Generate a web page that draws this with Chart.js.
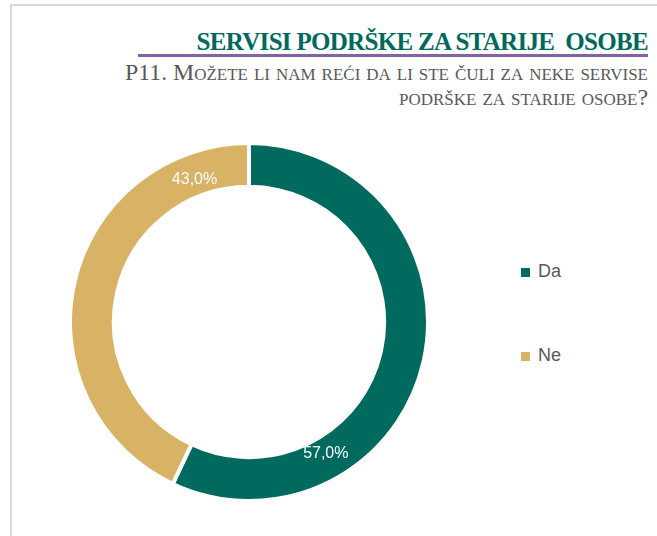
<!DOCTYPE html>
<html>
<head>
<meta charset="utf-8">
<script src="https://cdn.jsdelivr.net/npm/chart.js@4/dist/chart.umd.min.js"></script>
<style>
  body { margin: 0; background: #fff; width: 657px; height: 536px; overflow: hidden; position: relative; }
  .frame { position: absolute; left: 10px; top: 4px; width: 700px; height: 600px; border: 2px solid #d9d9d9; }
  .title { position: absolute; right: 9px; top: 28px; font-family: "Liberation Serif", serif; font-weight: bold;
           font-size: 25px; color: #00695e; white-space: pre; letter-spacing: -0.7px; }
  .rule { position: absolute; left: 138px; top: 54px; width: 510px; height: 3px; background: #8064a2; }
  .sub { position: absolute; right: 9px; top: 60px; font-family: "Liberation Serif", serif; font-size: 23.8px;
         color: #595959; text-align: right; font-variant: small-caps; line-height: 25px; }
  .chartBox { position: absolute; left: 68px; top: 141px; width: 362px; height: 362px; }
  .legend { position: absolute; left: 519px; top: 261px; font-family: "Liberation Sans", sans-serif; font-size: 18px; color: #595959; }
  .legend div { height: 84px; display: flex; align-items: flex-start; }
  .legend span.box { display: inline-block; width: 9px; height: 9px; margin: 7px 8px 0 2px; }
</style>
</head>
<body>
<div class="frame"></div>
<div class="title">SERVISI PODRŠKE ZA STARIJE  OSOBE</div>
<div class="rule"></div>
<div class="sub">P11. Možete li nam reći da li ste čuli za neke servise<br>podrške za starije osobe?</div>
<div class="chartBox"><canvas id="donut"></canvas></div>
<div class="legend" id="legend"></div>
<script>
// data
const categories = ['Da', 'Ne'];
const values = [57.0, 43.0];
const colors = ['#006a5e', '#d8b265'];
// where along each arc the value label sits (fraction of the arc span), like the original
const labelSpot = [0.73, 0.865];

// legend
document.getElementById('legend').innerHTML = categories.map((c, i) =>
    `<div><span class="box" style="background:${colors[i]}"></span>${c}</div>`).join('');

// value labels plugin
const arcLabels = {
    id: 'arcLabels',
    afterDatasetsDraw(chart) {
        const ctx = chart.ctx;
        const meta = chart.getDatasetMeta(0);
        ctx.save();
        ctx.fillStyle = '#ffffff';
        ctx.font = '16px "Liberation Sans", sans-serif';
        ctx.textAlign = 'center';
        ctx.textBaseline = 'middle';
        meta.data.forEach((arc, i) => {
            const p = arc.getProps(['x', 'y', 'startAngle', 'endAngle', 'innerRadius', 'outerRadius'], true);
            const a = p.startAngle + (p.endAngle - p.startAngle) * labelSpot[i];
            const r = p.innerRadius + (p.outerRadius - p.innerRadius) * 0.4;
            const txt = values[i].toFixed(1).replace('.', ',') + '%';
            ctx.fillText(txt, p.x + Math.cos(a) * r, p.y + Math.sin(a) * r);
        });
        ctx.restore();
    }
};

const ctx = document.getElementById('donut').getContext('2d');
const donutChart = new Chart(ctx, {
    type: 'doughnut',
    data: {
        labels: categories,
        datasets: [{
            data: values,
            backgroundColor: colors,
            borderColor: '#ffffff',
            borderWidth: 4,
            hoverOffset: 0
        }]
    },
    options: {
        responsive: true,
        maintainAspectRatio: false,
        animation: false,
        cutout: '75.5%',
        layout: { padding: 0 },
        plugins: { legend: { display: false }, tooltip: { enabled: false } }
    },
    plugins: [arcLabels]
});
</script>
</body>
</html>
